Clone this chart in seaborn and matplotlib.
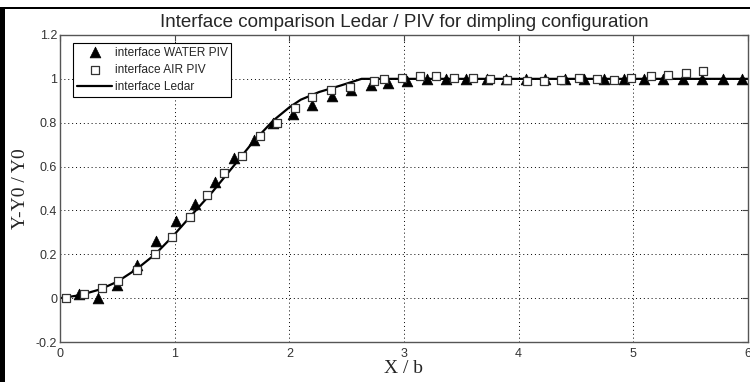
import numpy as np
import pandas as pd
import matplotlib
matplotlib.use('Agg')
import matplotlib.pyplot as plt
import seaborn as sns
from matplotlib.patches import Rectangle

# interface WATER PIV (triangles)
water_x = [0.17, 0.33, 0.50, 0.67, 0.84, 1.01, 1.18, 1.35, 1.52, 1.69, 1.86, 2.03,
           2.20, 2.37, 2.54, 2.71, 2.86, 3.03, 3.20, 3.37, 3.54, 3.72, 3.89, 4.06,
           4.23, 4.40, 4.57, 4.74, 4.92, 5.09, 5.26, 5.43, 5.60, 5.78, 5.95]
water_y = [0.02, 0.00, 0.06, 0.15, 0.26, 0.35, 0.43, 0.53, 0.64, 0.72, 0.80, 0.84,
           0.88, 0.92, 0.95, 0.97, 0.98, 0.99, 1.00, 1.00, 1.00, 1.00, 1.00, 1.00,
           1.00, 1.00, 1.00, 1.00, 1.00, 1.00, 1.00, 1.00, 1.00, 1.00, 1.00]

# interface AIR PIV (squares)
air_x = [0.05, 0.21, 0.37, 0.51, 0.67, 0.83, 0.98, 1.13, 1.28, 1.43, 1.59, 1.74,
         1.89, 2.05, 2.20, 2.36, 2.53, 2.74, 2.83, 2.98, 3.14, 3.28, 3.44, 3.60,
         3.75, 3.90, 4.07, 4.22, 4.37, 4.53, 4.68, 4.83, 4.98, 5.15, 5.30, 5.46, 5.61]
air_y = [0.00, 0.02, 0.045, 0.08, 0.13, 0.20, 0.28, 0.37, 0.47, 0.57, 0.65, 0.74,
         0.80, 0.865, 0.915, 0.95, 0.965, 0.99, 1.00, 1.005, 1.015, 1.015, 1.005, 1.005,
         1.00, 0.995, 0.99, 0.99, 0.995, 1.005, 1.00, 0.997, 1.005, 1.013, 1.017, 1.026, 1.035]

# interface Ledar (line)
ledar_x = [0.0, 0.17, 0.35, 0.50, 0.67, 0.83, 0.98, 1.15, 1.33, 1.51, 1.68, 1.86,
           2.00, 2.10, 2.26, 2.45, 2.63, 6.0]
ledar_y = [0.0, 0.013, 0.04, 0.075, 0.133, 0.20, 0.28, 0.38, 0.485, 0.60, 0.71, 0.81,
           0.87, 0.905, 0.94, 0.97, 1.0, 1.0]

yticks = [-0.2, 0, 0.2, 0.4, 0.6, 0.8, 1, 1.2]
ytick_labels = ['-0.2', '0', '0.2', '0.4', '0.6', '0.8', '1', '1.2']
xticks = [0, 1, 2, 3, 4, 5, 6]
xtick_labels = ['0', '1', '2', '3', '4', '5', '6']

sns.set_style('white')
plt.rcParams['font.family'] = ['Liberation Sans', 'DejaVu Sans']

fig = plt.figure(figsize=(7.5, 3.82), dpi=100)
ax = fig.add_axes([0.08, 0.1047, 0.9173, 0.8037])

water = pd.DataFrame({'x': water_x, 'y': water_y})
air = pd.DataFrame({'x': air_x, 'y': air_y})
ledar = pd.DataFrame({'x': ledar_x, 'y': ledar_y})

sns.lineplot(data=ledar, x='x', y='y', ax=ax, color='black', linewidth=1.6,
             label='interface Ledar', zorder=2, sort=False)
sns.scatterplot(data=water, x='x', y='y', ax=ax, marker='^', s=60, color='black',
                edgecolor='black', linewidth=0.5, label='interface WATER PIV', zorder=3)
sns.scatterplot(data=air, x='x', y='y', ax=ax, marker='s', s=38, facecolor='white',
                edgecolor='#333333', linewidth=0.9, label='interface AIR PIV', zorder=4)

ax.set_xlim(0, 6)
ax.set_ylim(-0.2, 1.2)
ax.set_xticks(xticks)
ax.set_xticklabels(xtick_labels)
ax.set_yticks(yticks)
ax.set_yticklabels(ytick_labels)
ax.grid(True, linestyle=(0, (1, 3)), color='black', linewidth=0.7)
ax.tick_params(direction='in', length=4, width=0.8, colors='#444444',
               labelsize=9, labelcolor='#333333', top=True, right=True, pad=2)
ax.tick_params(axis='x', pad=4)
for sp in ax.spines.values():
    sp.set_color('#555555')
    sp.set_linewidth(1.0)

ax.set_xlabel('X / b', family=['Liberation Serif'], fontsize=14, labelpad=0)
ax.set_ylabel('Y-Y0 / Y0', family=['Liberation Serif'], fontsize=14, labelpad=5)
ax.set_title('Interface comparison Ledar / PIV for dimpling configuration',
             fontsize=13.5, pad=6)

handles, labels = ax.get_legend_handles_labels()
order = [labels.index('interface WATER PIV'), labels.index('interface AIR PIV'),
         labels.index('interface Ledar')]
leg = ax.legend([handles[i] for i in order], [labels[i] for i in order],
                loc='upper left', bbox_to_anchor=(0.019, 0.974), fontsize=8.6,
                frameon=True, fancybox=False, edgecolor='black', framealpha=1,
                handlelength=3.0, handletextpad=0.2, labelspacing=0.45,
                borderpad=0.3, borderaxespad=0)
leg.get_frame().set_linewidth(0.8)

# screenshot frame
fig.add_artist(Rectangle((0, 0), 5 / 750, 1 - 7 / 382, transform=fig.transFigure,
                         color='black', lw=0))
fig.add_artist(Rectangle((0, 1 - 9 / 382), 1, 2 / 382, transform=fig.transFigure,
                         color='black', lw=0))

fig.savefig('out.png', dpi=100)
